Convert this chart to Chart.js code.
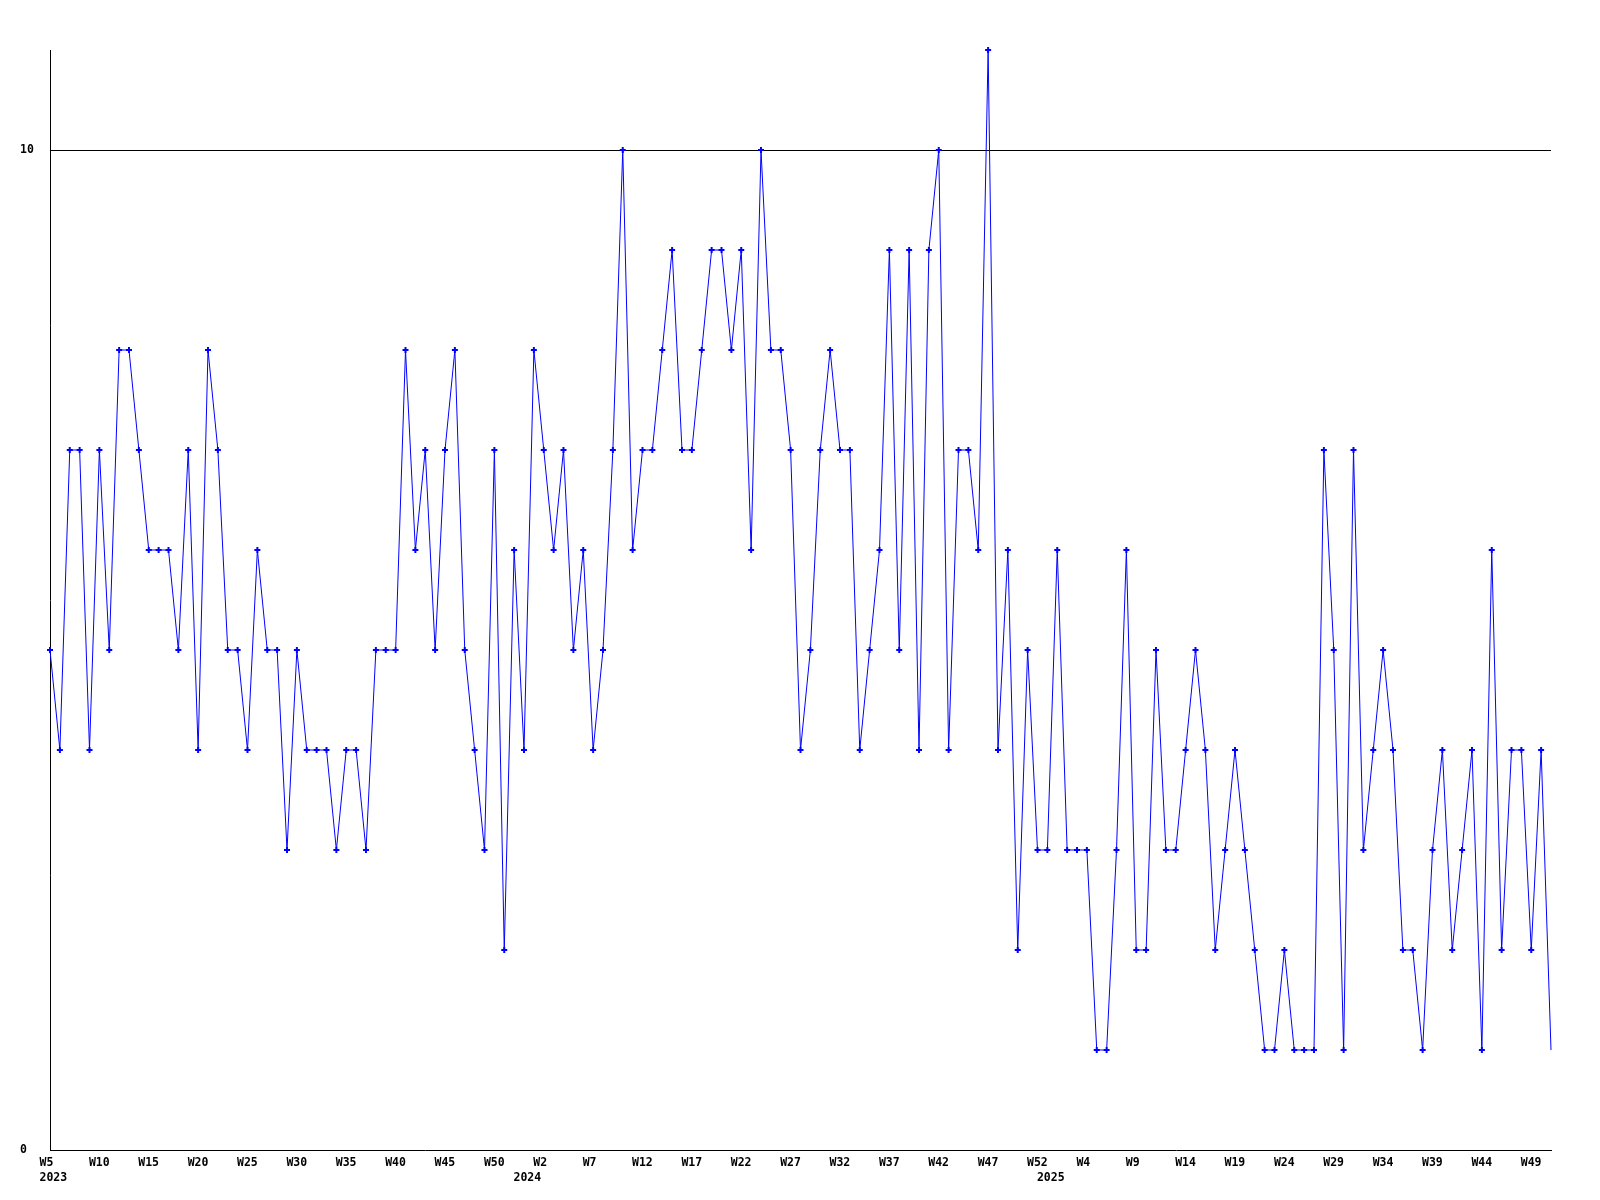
<!DOCTYPE html>
<html>
<head>
<meta charset="utf-8">
<title>Weekly count</title>
<script src="https://cdn.jsdelivr.net/npm/chart.js@4.4.1/dist/chart.umd.min.js"></script>
<style>
    html, body { margin: 0; padding: 0; background: #fff; }
    #wrap { width: 1600px; height: 1200px; }
</style>
</head>
<body>
<div id="wrap"><canvas id="weeklyChart" width="1600" height="1200"></canvas></div>
<script>
// Weekly values, one array per year
const YEARS = ['2023', '2024', '2025'];
const FIRST_WEEK = [5, 0, 0];

const values2023 = [
    5, 4, 7, 7, 4, 7, 5, 8, 8, 7,
    6, 6, 6, 5, 7, 4, 8, 7, 5, 5,
    4, 6, 5, 5, 3, 5, 4, 4, 4, 3,
    4, 4, 3, 5, 5, 5, 8, 6, 7, 5,
    7, 8, 5, 4, 3, 7, 2, 6
];
const values2024 = [
    4, 8, 7, 6, 7, 5, 6, 4, 5, 7,
    10, 6, 7, 7, 8, 9, 7, 7, 8, 9,
    9, 8, 9, 6, 10, 8, 8, 7, 4, 5,
    7, 8, 7, 7, 4, 5, 6, 9, 5, 9,
    4, 9, 10, 4, 7, 7, 6, 11, 4, 6,
    2, 5, 3
];
const values2025 = [
    3, 6, 3, 3, 3, 1, 1, 3, 6, 2,
    2, 5, 3, 3, 4, 5, 4, 2, 3, 4,
    3, 2, 1, 1, 2, 1, 1, 1, 7, 5,
    1, 7, 3, 4, 5, 4, 2, 2, 1, 3,
    4, 2, 3, 4, 1, 6, 2, 4, 4, 2,
    4, 1
];

const Y_TICKS = [0, 10];
const LABEL_EVERY = 5;

// build category list: week number + year for every point
const weekNums = [];
const weekYears = [];
[values2023, values2024, values2025].forEach((vals, y) => {
    vals.forEach((v, i) => {
        weekNums.push(FIRST_WEEK[y] + i);
        weekYears.push(YEARS[y]);
    });
});
const labels = weekNums.map((w, i) => 'W' + w + ' ' + weekYears[i]);
const values = [].concat(values2023, values2024, values2025);

function tickLabel(index) {
    const yearStart = index === 0 || weekYears[index] !== weekYears[index - 1];
    const weekLine = index % LABEL_EVERY === 0 ? 'W' + weekNums[index] : '';
    if (yearStart) return [weekLine, weekYears[index]];
    return weekLine || null;
}

const tickFont = { family: "'DejaVu Sans Mono', monospace", size: 11.5, weight: 'bold', lineHeight: 1.3 };

new Chart(document.getElementById('weeklyChart'), {
    type: 'line',
    data: {
        labels,
        datasets: [{
            data: values,
            borderColor: '#0000ff',
            backgroundColor: '#0000ff',
            borderWidth: 1,
            tension: 0,
            pointStyle: 'cross',
            pointRadius: ctx => ctx.dataIndex === values.length - 1 ? 0 : 3,
            pointBorderWidth: 2,
            pointBorderColor: '#0000ff',
            clip: false
        }]
    },
    options: {
        responsive: false,
        animation: false,
        layout: { padding: { left: 20, top: 50, right: 49, bottom: 0 } },
        plugins: { legend: { display: false }, tooltip: { enabled: false } },
        scales: {
            x: {
                offset: false,
                grid: { display: false, drawTicks: false },
                border: { display: true, color: '#000', width: 1 },
                afterFit: scale => { scale.height = 50; },
                ticks: {
                    autoSkip: false,
                    maxRotation: 0,
                    minRotation: 0,
                    align: 'start',
                    labelOffset: -10.5,
                    padding: 6,
                    color: '#000',
                    font: tickFont,
                    callback: (value, index) => tickLabel(index)
                }
            },
            y: {
                min: 0,
                max: 11,
                grid: {
                    drawTicks: false,
                    color: ctx => (ctx.tick && ctx.tick.value === 10) ? '#000' : 'rgba(0,0,0,0)',
                    lineWidth: 1
                },
                border: { display: true, color: '#000', width: 1 },
                afterFit: scale => { scale.width = 30; },
                ticks: {
                    stepSize: 10,
                    includeBounds: false,
                    crossAlign: 'far',
                    color: '#000',
                    font: tickFont,
                    callback: v => Y_TICKS.includes(v) ? String(v) : null
                }
            }
        }
    }
});
</script>
</body>
</html>
